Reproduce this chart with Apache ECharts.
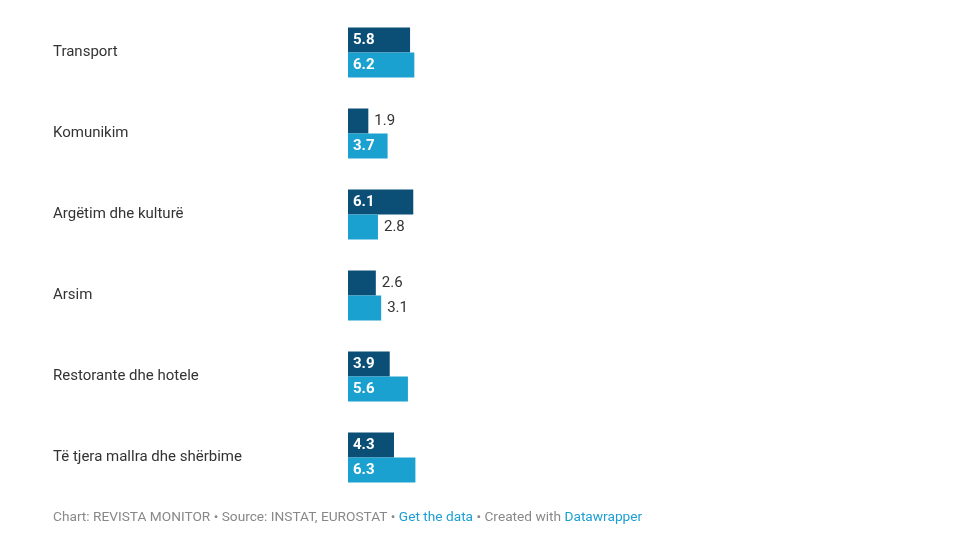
<!DOCTYPE html>
<html>
<head>
<meta charset="utf-8">
<script src="https://cdn.jsdelivr.net/npm/echarts@6/dist/echarts.min.js"></script>
<style>
html,body{margin:0;padding:0;background:#fff;}
#chart{width:961px;height:547px;}
</style>
</head>
<body>
<div id="chart"></div>
<script>
var categories = ["Transport", "Komunikim", "Argëtim dhe kulturë", "Arsim", "Restorante dhe hotele", "Të tjera mallra dhe shërbime"];
var series1 = [5.8, 1.9, 6.1, 2.6, 3.9, 4.3];
var series2 = [6.2, 3.7, 2.8, 3.1, 5.6, 6.3];

var darkColor = '#0b4f77';
var lightColor = '#1ba1cf';

function withLabels(values) {
  return values.map(function (v) {
    var inside = v >= 3.5;
    return {
      value: v,
      label: inside ? {
        position: 'insideLeft', distance: 5, color: '#ffffff', fontWeight: 'bold'
      } : {
        position: 'right', distance: 6, color: '#333333', fontWeight: 'normal'
      }
    };
  });
}

var chart = echarts.init(document.getElementById('chart'));
chart.setOption({
  animation: false,
  textStyle: { fontFamily: 'Roboto' },
  grid: { left: 348, top: 12, width: 107, height: 486 },
  xAxis: {
    type: 'value', min: 0, max: 10,
    show: false
  },
  yAxis: {
    type: 'category', data: categories, inverse: true,
    axisLine: { show: false }, axisTick: { show: false },
    axisLabel: {
      align: 'left', margin: 295, color: '#333333', fontSize: 15, fontFamily: 'Roboto',
      padding: [3, 0, 0, 0]
    }
  },
  series: [
    {
      name: 'Seria 1', type: 'bar', data: withLabels(series1),
      barWidth: 25, barGap: '0%',
      itemStyle: { color: darkColor },
      label: { show: true, fontSize: 15, fontFamily: 'Roboto', formatter: function (p) { return p.value.toFixed(1); } }
    },
    {
      name: 'Seria 2', type: 'bar', data: withLabels(series2),
      barWidth: 25, barGap: '0%',
      itemStyle: { color: lightColor },
      label: { show: true, fontSize: 15, fontFamily: 'Roboto', formatter: function (p) { return p.value.toFixed(1); } }
    }
  ],
  graphic: [{
    type: 'text', left: 53, top: 511,
    style: {
      text: '{g|Chart: REVISTA MONITOR • Source: INSTAT, EUROSTAT • }{b|Get the data}{g| • Created with }{b|Datawrapper}',
      rich: {
        g: { fill: '#888888', fontSize: 13.7, fontFamily: 'Roboto' },
        b: { fill: '#1d9ed2', fontSize: 13.7, fontFamily: 'Roboto' }
      }
    }
  }]
});
</script>
</body>
</html>
